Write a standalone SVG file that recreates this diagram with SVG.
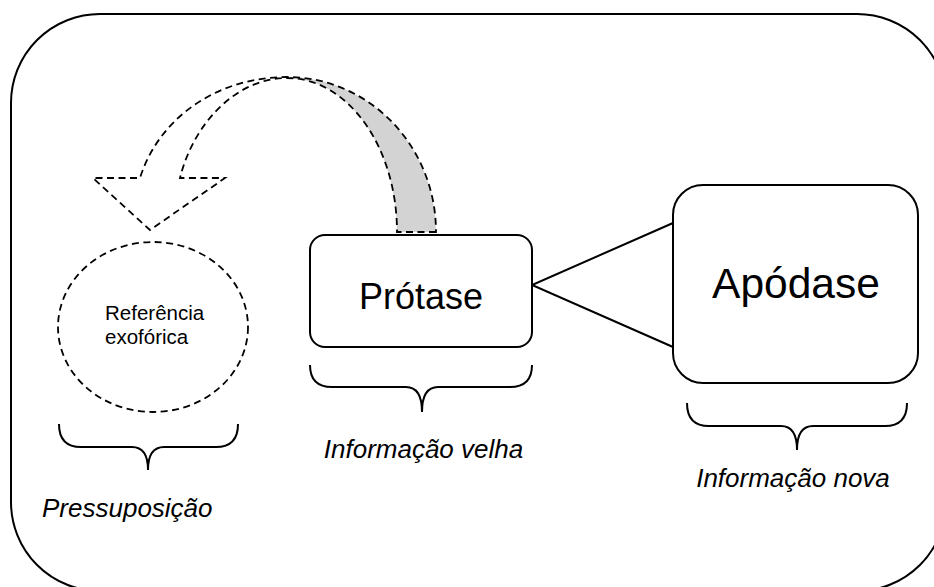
<svg xmlns="http://www.w3.org/2000/svg" width="934" height="587" viewBox="0 0 934 587">
<style>
.solid{fill:none;stroke:#000;stroke-width:2}
.box{fill:#fff;stroke:#000;stroke-width:2}
.dash{fill:none;stroke:#000;stroke-width:1.8;stroke-dasharray:7 4.5}
.t{font-family:"Liberation Sans",Arial,sans-serif;fill:#000}
.it{font-style:italic;font-size:26px}
</style>
<rect width="934" height="587" fill="#fff"/>
<rect id="frame" x="11" y="14" width="935" height="577" rx="89" ry="89" class="solid"/>
<g id="arrow">
<path d="M287,77 C369,77 436,146 436,232 L397,232 C397,147 348,78 287,78 Z" fill="#d3d3d3" stroke="none"/>
<path class="dash" d="M436,232 L397,232 C397,147 348,78 287,78 C235,78 193,125 180,178 L225,178 L150,230 L93,178 L140,178 C158,120 215,77 287,77 C369,77 436,146 436,232 Z"/>
</g>
<g id="connectors">
<path class="solid" d="M673,223 L532,285 L673,347"/>
</g>
<g id="referencia">
<ellipse cx="153" cy="327" rx="95" ry="85" class="dash"/>
<text class="t" x="105" y="320" font-size="20.5">Referência</text>
<text class="t" x="105" y="344" font-size="20.5">exofórica</text>
</g>
<g id="protase">
<rect x="310" y="235" width="222" height="112" rx="15" ry="15" class="box"/>
<text class="t" x="421" y="309" font-size="36" text-anchor="middle">Prótase</text>
</g>
<g id="apodase">
<rect x="673" y="185" width="245" height="198" rx="30" ry="30" class="box"/>
<text class="t" x="796" y="298" font-size="42.5" text-anchor="middle">Apódase</text>
</g>
<g id="brace-pressuposicao">
<path class="solid" d="M59,424 Q59,447 81,447 L132,447 Q148,447 148,470 Q148,447 164,447 L216,447 Q238,447 238,424"/>
<text class="t it" x="42" y="517">Pressuposição</text>
</g>
<g id="brace-velha">
<path class="solid" d="M310,365 Q310,387 332,387 L406,387 Q422,387 422,412 Q422,387 438,387 L510,387 Q532,387 532,365"/>
<text class="t it" x="423.5" y="458" text-anchor="middle">Informação velha</text>
</g>
<g id="brace-nova">
<path class="solid" d="M687,403 Q687,426 709,426 L781,426 Q797,426 797,450 Q797,426 813,426 L885,426 Q907,426 907,403"/>
<text class="t it" x="793" y="487" text-anchor="middle">Informação nova</text>
</g>
</svg>
